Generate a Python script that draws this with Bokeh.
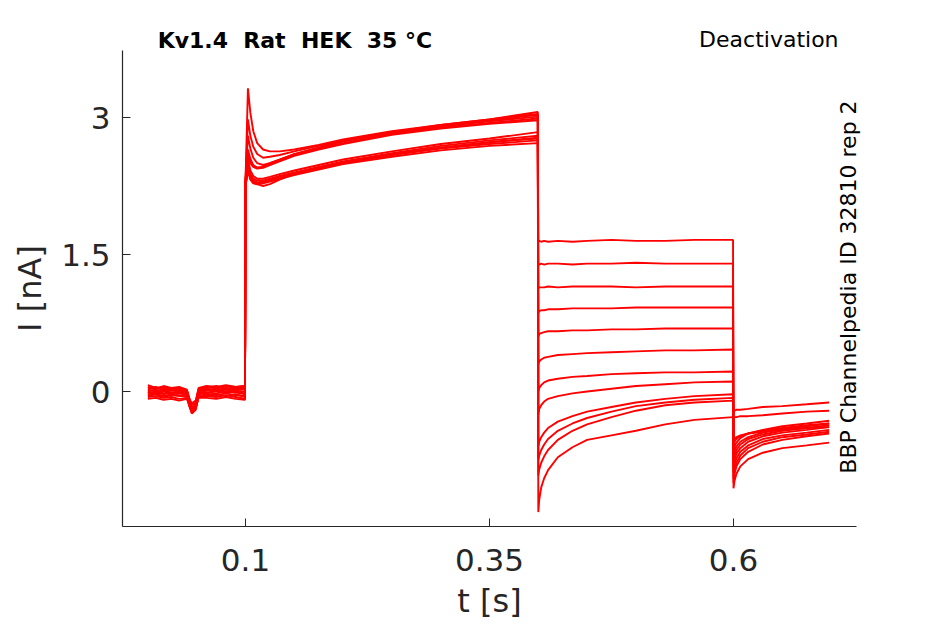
import numpy as np
from bokeh.plotting import figure
from bokeh.models import Range1d, Label, FixedTicker
from bokeh.embed import file_html
from bokeh.resources import INLINE

# ---- time grids (s) for the four protocol segments ----
t_base = [0.0, 0.008, 0.016, 0.024, 0.032, 0.040, 0.043, 0.045, 0.049, 0.052, 0.06, 0.07, 0.08, 0.09, 0.0995]
t_act = [0.1, 0.1025, 0.105, 0.108, 0.112, 0.118, 0.125, 0.135, 0.15, 0.175, 0.2, 0.25, 0.3, 0.35, 0.3995]
t_deact = [0.4, 0.401, 0.403, 0.406, 0.41, 0.42, 0.435, 0.45, 0.475, 0.5, 0.53, 0.56, 0.5995]
t_tail = [0.6, 0.601, 0.603, 0.607, 0.615, 0.63, 0.65, 0.675, 0.698]

# ---- currents (nA), one list per sweep and segment ----
base = [
    [0.05, 0.03, 0.06, 0.04, 0.05, 0.02, -0.10, -0.15, -0.12, 0.03, 0.05, 0.04, 0.06, 0.05, 0.04],
    [0.03, 0.05, 0.02, 0.04, 0.03, 0.01, -0.12, -0.18, -0.14, 0.01, 0.04, 0.06, 0.03, 0.05, 0.06],
    [0.01, 0.02, 0.00, 0.03, 0.01, -0.01, -0.14, -0.20, -0.15, 0.00, 0.02, 0.03, 0.02, 0.04, 0.02],
    [0.00, -0.02, 0.01, -0.01, 0.00, -0.03, -0.15, -0.22, -0.18, -0.02, 0.01, 0.00, 0.02, 0.01, 0.00],
    [-0.02, 0.00, -0.03, -0.01, -0.02, -0.04, -0.16, -0.23, -0.19, -0.03, -0.01, -0.02, 0.00, -0.01, -0.03],
    [-0.04, -0.02, -0.05, -0.03, -0.04, -0.06, -0.17, -0.24, -0.20, -0.05, -0.03, -0.04, -0.02, -0.04, -0.05],
    [-0.06, -0.05, -0.07, -0.06, -0.08, -0.07, -0.18, -0.22, -0.18, -0.06, -0.05, -0.06, -0.04, -0.06, -0.08],
    [-0.08, -0.07, -0.09, -0.08, -0.10, -0.08, -0.16, -0.20, -0.17, -0.07, -0.07, -0.08, -0.06, -0.08, -0.09],
    [0.07, 0.04, 0.05, 0.02, 0.04, 0.01, -0.09, -0.13, -0.10, 0.04, 0.06, 0.05, 0.07, 0.05, 0.06],
    [0.02, 0.00, 0.03, 0.01, 0.02, 0.00, -0.13, -0.19, -0.16, 0.02, 0.03, 0.01, 0.04, 0.02, 0.03],
    [-0.01, -0.03, 0.00, -0.02, -0.01, -0.03, -0.15, -0.21, -0.17, -0.01, -0.02, 0.01, -0.01, 0.00, -0.02],
    [-0.05, -0.03, -0.06, -0.04, -0.05, -0.05, -0.16, -0.23, -0.18, -0.04, -0.05, -0.03, -0.05, -0.03, -0.06],
]

act = [
    [2.30, 3.32, 3.05, 2.85, 2.72, 2.65, 2.63, 2.63, 2.65, 2.70, 2.76, 2.85, 2.92, 2.98, 3.04],
    [2.25, 2.55, 2.42, 2.36, 2.33, 2.33, 2.35, 2.38, 2.42, 2.48, 2.54, 2.63, 2.71, 2.77, 2.84],
    [2.30, 2.98, 2.80, 2.68, 2.60, 2.56, 2.57, 2.59, 2.63, 2.69, 2.75, 2.84, 2.91, 2.97, 3.03],
    [2.25, 2.50, 2.38, 2.33, 2.31, 2.31, 2.33, 2.36, 2.40, 2.46, 2.52, 2.61, 2.69, 2.75, 2.80],
    [2.30, 2.80, 2.66, 2.56, 2.50, 2.48, 2.50, 2.54, 2.60, 2.67, 2.74, 2.83, 2.90, 2.96, 3.01],
    [2.25, 2.45, 2.34, 2.30, 2.28, 2.29, 2.31, 2.34, 2.39, 2.45, 2.51, 2.60, 2.67, 2.73, 2.77],
    [2.30, 2.65, 2.55, 2.48, 2.45, 2.46, 2.49, 2.53, 2.59, 2.66, 2.72, 2.82, 2.89, 2.94, 2.99],
    [2.25, 2.42, 2.32, 2.28, 2.27, 2.28, 2.30, 2.33, 2.37, 2.43, 2.49, 2.57, 2.64, 2.69, 2.72],
    [2.30, 2.60, 2.50, 2.46, 2.44, 2.45, 2.48, 2.52, 2.58, 2.65, 2.71, 2.81, 2.88, 2.93, 2.97],
    [2.25, 2.48, 2.36, 2.31, 2.29, 2.30, 2.32, 2.35, 2.39, 2.45, 2.50, 2.59, 2.66, 2.71, 2.75],
    [2.30, 2.62, 2.52, 2.47, 2.45, 2.46, 2.50, 2.54, 2.60, 2.67, 2.74, 2.84, 2.92, 2.98, 3.06],
    [2.25, 2.44, 2.33, 2.29, 2.27, 2.25, 2.27, 2.32, 2.38, 2.44, 2.50, 2.59, 2.67, 2.73, 2.78],
]

deact = [
    [1.64, 1.65, 1.64, 1.65, 1.64, 1.65, 1.64, 1.65, 1.66, 1.65, 1.65, 1.66, 1.66],
    [1.39, 1.39, 1.40, 1.39, 1.40, 1.40, 1.39, 1.40, 1.40, 1.41, 1.40, 1.40, 1.40],
    [1.13, 1.14, 1.14, 1.14, 1.15, 1.14, 1.15, 1.15, 1.15, 1.14, 1.15, 1.15, 1.15],
    [0.86, 0.88, 0.89, 0.89, 0.90, 0.90, 0.91, 0.91, 0.91, 0.92, 0.92, 0.92, 0.92],
    [0.60, 0.63, 0.64, 0.65, 0.66, 0.66, 0.67, 0.67, 0.68, 0.68, 0.69, 0.69, 0.69],
    [0.30, 0.33, 0.35, 0.37, 0.38, 0.40, 0.41, 0.42, 0.43, 0.44, 0.45, 0.45, 0.46],
    [0.00, 0.04, 0.07, 0.10, 0.12, 0.14, 0.16, 0.17, 0.19, 0.20, 0.21, 0.21, 0.22],
    [-0.25, -0.19, -0.15, -0.11, -0.08, -0.05, -0.02, 0.00, 0.03, 0.06, 0.08, 0.10, 0.11],
    [-0.60, -0.55, -0.50, -0.45, -0.40, -0.33, -0.27, -0.22, -0.17, -0.12, -0.08, -0.05, -0.03],
    [-0.75, -0.70, -0.64, -0.58, -0.52, -0.43, -0.35, -0.29, -0.22, -0.16, -0.12, -0.09, -0.07],
    [-0.92, -0.85, -0.78, -0.71, -0.64, -0.53, -0.43, -0.36, -0.28, -0.21, -0.15, -0.12, -0.10],
    [-1.32, -1.18, -1.05, -0.95, -0.86, -0.72, -0.61, -0.53, -0.48, -0.43, -0.36, -0.31, -0.28],
]

tail = [
    [-1.06, -0.98, -0.90, -0.82, -0.74, -0.67, -0.62, -0.59, -0.56],
    [-1.00, -0.90, -0.82, -0.74, -0.66, -0.58, -0.53, -0.49, -0.46],
    [-0.95, -0.86, -0.78, -0.70, -0.62, -0.55, -0.50, -0.47, -0.44],
    [-0.88, -0.80, -0.73, -0.66, -0.59, -0.52, -0.48, -0.45, -0.42],
    [-0.82, -0.75, -0.68, -0.62, -0.55, -0.49, -0.45, -0.42, -0.39],
    [-0.76, -0.70, -0.64, -0.58, -0.52, -0.47, -0.43, -0.40, -0.37],
    [-0.70, -0.65, -0.60, -0.55, -0.50, -0.45, -0.41, -0.38, -0.35],
    [-0.64, -0.60, -0.56, -0.51, -0.46, -0.42, -0.38, -0.35, -0.32],
    [-0.58, -0.55, -0.52, -0.49, -0.46, -0.43, -0.40, -0.37, -0.35],
    [-0.54, -0.52, -0.50, -0.48, -0.46, -0.44, -0.42, -0.40, -0.39],
    [-0.21, -0.21, -0.20, -0.20, -0.19, -0.17, -0.16, -0.14, -0.12],
    [-0.28, -0.28, -0.28, -0.27, -0.27, -0.26, -0.24, -0.22, -0.21],
]

x_ticks = [0.1, 0.35, 0.6]
y_ticks = [0, 1.5, 3]
title_left = "Kv1.4\u00a0 Rat\u00a0 HEK\u00a0 35 °C"
title_right = "Deactivation"
side_text = "BBP Channelpedia ID 32810 rep 2"

FONT = "DejaVu Sans"
AX = "#262626"

p = figure(width=938, height=622, output_backend="svg", toolbar_location=None,
           x_range=Range1d(-0.026, 0.726), y_range=Range1d(-1.478, 3.734),
           min_border_left=122, min_border_right=82, min_border_top=47, min_border_bottom=96)
p.outline_line_color = None
p.grid.visible = False
p.background_fill_color = "white"
p.border_fill_color = "white"

t_all = t_base + t_act + t_deact + t_tail
for i in range(len(base)):
    y = base[i] + act[i] + deact[i] + tail[i]
    p.line(t_all, y, line_color="#ff0000", line_width=1.9)

for ax in (p.xaxis[0], p.yaxis[0]):
    ax.axis_line_color = AX
    ax.axis_line_width = 1.2
    ax.major_tick_line_color = AX
    ax.major_tick_in = 8
    ax.major_tick_out = 0
    ax.minor_tick_line_color = None
    ax.major_label_text_font = FONT
    ax.major_label_text_font_size = "31px"
    ax.major_label_text_color = AX
    ax.axis_label_text_font = FONT
    ax.axis_label_text_font_size = "32px"
    ax.axis_label_text_color = AX
    ax.axis_label_text_font_style = "normal"

p.xaxis.ticker = FixedTicker(ticks=x_ticks)
p.yaxis.ticker = FixedTicker(ticks=y_ticks)
p.xaxis.major_label_overrides = {0.1: "0.1", 0.35: "0.35", 0.6: "0.6"}
p.yaxis.major_label_overrides = {0: "0", 1.5: "1.5", 3: "3"}
p.xaxis.axis_label = "t [s]"
p.yaxis.axis_label = "I [nA]"
p.xaxis.major_label_standoff = 22
p.yaxis.major_label_standoff = 12
p.xaxis.axis_label_standoff = 8
p.yaxis.axis_label_standoff = 9

# texts placed in the side panels so that they are not clipped by the frame
p.add_layout(Label(x=0.010, y=10, y_units="screen", text=title_left,
                   text_font=FONT, text_font_size="22px", text_font_style="bold",
                   text_color="black", text_align="left", text_baseline="alphabetic"), "above")
p.add_layout(Label(x=0.7076, y=-14, y_units="screen", text=title_right,
                   text_font=FONT, text_font_size="22px", text_color="black",
                   text_align="right", text_baseline="alphabetic"), "above")
p.add_layout(Label(x=-8, y=1.144, x_units="screen", text=side_text,
                   text_font=FONT, text_font_size="22px", text_color="black",
                   text_align="center", text_baseline="alphabetic", angle=np.pi / 2), "right")

open("out.html", "w").write(file_html(p, INLINE))
